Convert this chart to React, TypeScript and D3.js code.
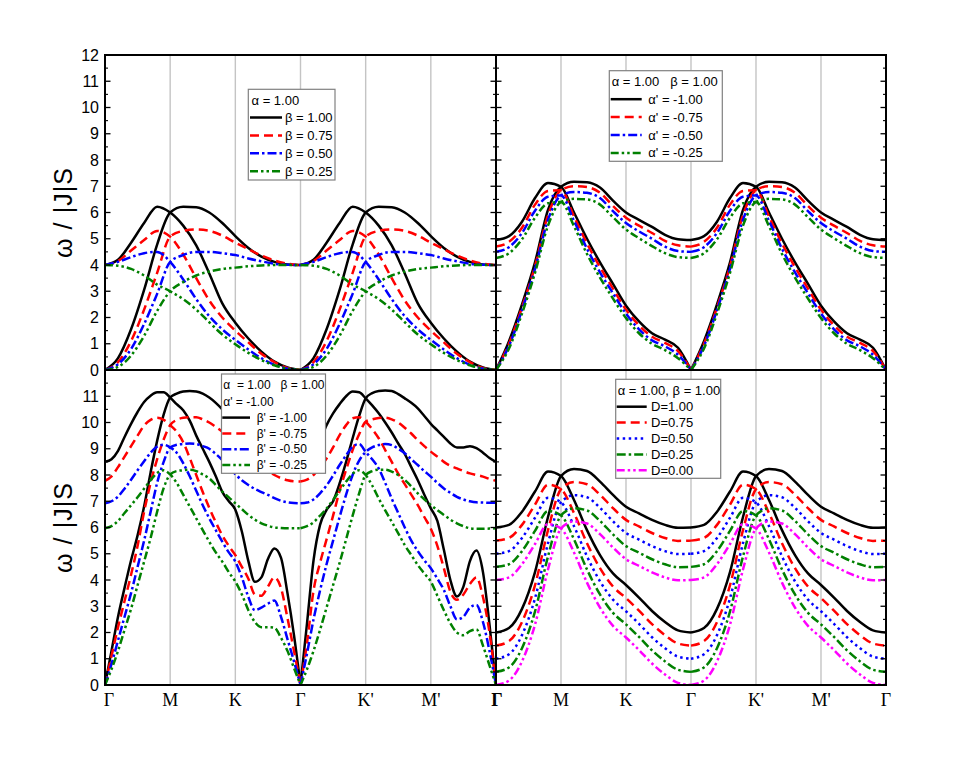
import * as d3 from "d3";

// positions along the path Γ-M-K-Γ-K'-M'-Γ (Γ=0, M=1, K=2, Γ=3, K'=4, M'=5, Γ=6)
const kCoarse = [0, 0.2, 0.4, 0.6, 0.8, 1, 1.2, 1.4, 1.6, 1.8, 2, 2.2, 2.4, 2.6, 2.8, 3, 3.2, 3.4, 3.6, 3.8, 4, 4.2, 4.4, 4.6, 4.8, 5, 5.2, 5.4, 5.6, 5.8, 6];
const kFine = [0, 0.1, 0.2, 0.3, 0.4, 0.5, 0.6, 0.7, 0.8, 0.9, 1, 1.1, 1.2, 1.3, 1.4, 1.5, 1.6, 1.7, 1.8, 1.9, 2, 2.1, 2.2, 2.3, 2.4, 2.5, 2.6, 2.7, 2.8, 2.9, 3, 3.1, 3.2, 3.3, 3.4, 3.5, 3.6, 3.7, 3.8, 3.9, 4, 4.1, 4.2, 4.3, 4.4, 4.5, 4.6, 4.7, 4.8, 4.9, 5, 5.1, 5.2, 5.3, 5.4, 5.5, 5.6, 5.7, 5.8, 5.9, 6];
const kTicks = [0, 1, 2, 3, 4, 5, 6];
const kLabels = ["Γ", "M", "K", "Γ", "K'", "M'", "Γ"];

// top left: alpha = 1.00, beta varies
const tlLabels = ["β = 1.00", "β = 0.75", "β = 0.50", "β = 0.25"];
const tlBlack1 = [4.0, 4.2, 4.85, 5.6, 6.22, 6.0, 5.5, 4.75, 3.68, 2.54, 1.8, 1.2, 0.7, 0.32, 0.1, 0, 0.45, 1.55, 3.05, 4.78, 6.0, 6.22, 6.2, 6.0, 5.6, 5.1, 4.65, 4.32, 4.12, 4.02, 4.0];
const tlBlack2 = [0, 0.45, 1.55, 3.05, 4.78, 6.0, 6.22, 6.2, 6.0, 5.6, 5.1, 4.65, 4.32, 4.12, 4.02, 4.0, 4.2, 4.85, 5.6, 6.22, 6.0, 5.5, 4.75, 3.68, 2.54, 1.8, 1.2, 0.7, 0.32, 0.1, 0];
const tlRed1 = [4.0, 4.15, 4.55, 4.95, 5.3, 5.08, 4.4, 3.5, 2.65, 2.0, 1.5, 1.05, 0.62, 0.3, 0.08, 0, 0.3, 1.1, 2.3, 3.7, 5.08, 5.3, 5.35, 5.3, 5.12, 4.85, 4.6, 4.36, 4.17, 4.05, 4.0];
const tlRed2 = [0, 0.3, 1.1, 2.3, 3.7, 5.08, 5.3, 5.35, 5.3, 5.12, 4.85, 4.6, 4.36, 4.17, 4.05, 4.0, 4.15, 4.55, 4.95, 5.3, 5.08, 4.4, 3.5, 2.65, 2.0, 1.5, 1.05, 0.62, 0.3, 0.08, 0];
const tlBlue1 = [4.0, 4.12, 4.3, 4.45, 4.5, 4.12, 3.45, 2.7, 2.05, 1.55, 1.15, 0.78, 0.45, 0.2, 0.05, 0, 0.22, 0.8, 1.75, 2.9, 4.12, 4.38, 4.5, 4.5, 4.45, 4.38, 4.25, 4.14, 4.05, 4.01, 4.0];
const tlBlue2 = [0, 0.22, 0.8, 1.75, 2.9, 4.12, 4.38, 4.5, 4.5, 4.45, 4.38, 4.25, 4.14, 4.05, 4.01, 4.0, 4.12, 4.3, 4.45, 4.5, 4.12, 3.45, 2.7, 2.05, 1.55, 1.15, 0.78, 0.45, 0.2, 0.05, 0];
const tlGreen1 = [4.0, 3.97, 3.85, 3.6, 3.25, 3.0, 2.7, 2.3, 1.82, 1.35, 0.98, 0.65, 0.38, 0.18, 0.05, 0, 0.12, 0.55, 1.3, 2.25, 3.0, 3.35, 3.6, 3.75, 3.85, 3.9, 3.95, 3.98, 4.0, 4.0, 4.0];
const tlGreen2 = [0, 0.12, 0.55, 1.3, 2.25, 3.0, 3.35, 3.6, 3.75, 3.85, 3.9, 3.95, 3.98, 4.0, 4.0, 4.0, 3.97, 3.85, 3.6, 3.25, 3.0, 2.7, 2.3, 1.82, 1.35, 0.98, 0.65, 0.38, 0.18, 0.05, 0];

// top right: alpha = beta = 1.00, alpha' varies
const trLabels = ["α' = -1.00", "α' = -0.75", "α' = -0.50", "α' = -0.25"];
const trBlack1 = [4.95, 5.1, 5.65, 6.55, 7.12, 6.98, 6.0, 5.0, 4.1, 3.28, 2.45, 1.85, 1.4, 1.16, 0.85, 0, 1.1, 2.5, 4.1, 6.1, 6.98, 7.17, 7.15, 6.95, 6.45, 6.0, 5.72, 5.45, 5.15, 4.98, 4.95];
const trBlack2 = [0, 1.1, 2.5, 4.1, 6.1, 6.98, 7.17, 7.15, 6.95, 6.45, 6.0, 5.72, 5.45, 5.15, 4.98, 4.95, 5.1, 5.65, 6.55, 7.12, 6.98, 6.0, 5.0, 4.1, 3.28, 2.45, 1.85, 1.4, 1.16, 0.85, 0];
const trRed1 = [4.7, 4.88, 5.42, 6.3, 6.82, 6.85, 5.85, 4.82, 3.92, 3.1, 2.3, 1.7, 1.27, 1.03, 0.72, 0, 1.0, 2.38, 3.95, 5.9, 6.85, 7.0, 6.97, 6.75, 6.25, 5.8, 5.5, 5.22, 4.92, 4.75, 4.7];
const trRed2 = [0, 1.0, 2.38, 3.95, 5.9, 6.85, 7.0, 6.97, 6.75, 6.25, 5.8, 5.5, 5.22, 4.92, 4.75, 4.7, 4.88, 5.42, 6.3, 6.82, 6.85, 5.85, 4.82, 3.92, 3.1, 2.3, 1.7, 1.27, 1.03, 0.72, 0];
const trBlue1 = [4.5, 4.68, 5.22, 6.07, 6.6, 6.65, 5.68, 4.62, 3.72, 2.92, 2.15, 1.55, 1.13, 0.9, 0.58, 0, 0.92, 2.28, 3.85, 5.72, 6.65, 6.78, 6.75, 6.55, 6.05, 5.6, 5.28, 5.0, 4.7, 4.53, 4.5];
const trBlue2 = [0, 0.92, 2.28, 3.85, 5.72, 6.65, 6.78, 6.75, 6.55, 6.05, 5.6, 5.28, 5.0, 4.7, 4.53, 4.5, 4.68, 5.22, 6.07, 6.6, 6.65, 5.68, 4.62, 3.72, 2.92, 2.15, 1.55, 1.13, 0.9, 0.58, 0];
const trGreen1 = [4.27, 4.45, 4.98, 5.8, 6.35, 6.4, 5.48, 4.42, 3.52, 2.72, 1.98, 1.4, 1.0, 0.76, 0.45, 0, 0.82, 2.15, 3.7, 5.5, 6.4, 6.52, 6.5, 6.3, 5.82, 5.35, 5.02, 4.72, 4.45, 4.3, 4.27];
const trGreen2 = [0, 0.82, 2.15, 3.7, 5.5, 6.4, 6.52, 6.5, 6.3, 5.82, 5.35, 5.02, 4.72, 4.45, 4.3, 4.27, 4.45, 4.98, 5.8, 6.35, 6.4, 5.48, 4.42, 3.52, 2.72, 1.98, 1.4, 1.0, 0.76, 0.45, 0];

// bottom left: alpha = beta = 1.00, alpha' = -1.00, beta' varies (fine grid)
const blLabels = ["β' = -1.00", "β' = -0.75", "β' = -0.50", "β' = -0.25"];
const blBlack1 = [8.5, 8.6, 8.92, 9.45, 9.95, 10.4, 10.78, 11.02, 11.15, 11.15, 10.95,
  10.7, 10.47, 10.07, 9.5, 9.0, 8.5, 7.95, 7.36, 7.0, 6.68,
  5.85, 4.72, 3.93, 4.1, 4.8, 5.2, 4.85, 3.5, 1.9, 0,
  2.35, 4.75, 6.1, 6.67, 7.0, 7.68, 8.5, 9.4, 10.25, 10.92,
  11.12, 11.2, 11.22, 11.2, 11.08, 10.92, 10.75, 10.54, 10.25, 9.95,
  9.7, 9.45, 9.2, 9.05, 9.05, 9.1, 9.02, 8.85, 8.65, 8.5];
const blBlack2 = [0, 1.3, 2.6, 3.7, 4.75, 5.7, 6.8, 8.1, 9.3, 10.3, 10.95,
  11.1, 11.18, 11.2, 11.18, 11.1, 10.95, 10.75, 10.5, 10.2, 9.9,
  9.65, 9.45, 9.25, 9.05, 9.0, 9.05, 9.0, 8.85, 8.65, 8.5,
  8.6, 8.85, 9.3, 9.9, 10.35, 10.7, 11.0, 11.18, 11.15, 10.92,
  10.65, 10.35, 10.0, 9.62, 9.2, 8.8, 8.3, 7.8, 7.25, 6.73,
  6.25, 5.15, 4.0, 3.37, 3.75, 4.72, 5.12, 4.3, 2.3, 0];
const blRed1 = [7.78, 7.95, 8.3, 8.7, 9.1, 9.5, 9.88, 10.1, 10.18, 10.1, 9.9,
  9.65, 9.25, 8.65, 8.0, 7.35, 6.75, 6.2, 5.7, 5.3, 4.95,
  4.5, 4.05, 3.45, 3.4, 3.75, 4.1, 3.7, 2.55, 1.3, 0,
  1.6, 3.6, 4.65, 5.55, 6.45, 7.4, 8.2, 8.95, 9.55, 10.03,
  10.12, 10.17, 10.18, 10.12, 10.0, 9.8, 9.58, 9.33, 9.1, 8.89,
  8.7, 8.5, 8.35, 8.25, 8.15, 8.06, 8.0, 7.94, 7.85, 7.78];
const blRed2 = [0, 1.1, 2.2, 3.2, 4.2, 5.3, 6.6, 7.7, 8.6, 9.35, 9.9,
  10.1, 10.18, 10.2, 10.2, 10.12, 10.0, 9.83, 9.65, 9.45, 9.25,
  9.05, 8.85, 8.6, 8.35, 8.15, 8.0, 7.88, 7.8, 7.76, 7.75,
  7.82, 8.0, 8.3, 8.63, 9.05, 9.52, 9.9, 10.16, 10.2, 10.03,
  9.75, 9.4, 8.95, 8.5, 8.05, 7.65, 7.25, 6.85, 6.4, 5.95,
  5.3, 4.45, 3.55, 3.25, 3.45, 3.85, 4.1, 3.35, 2.0, 0];
const blBlue1 = [6.92, 7.0, 7.18, 7.48, 7.82, 8.18, 8.52, 8.85, 9.08, 9.15, 9.05,
  8.85, 8.45, 7.95, 7.4, 6.85, 6.35, 5.9, 5.46, 5.05, 4.7,
  4.1, 3.35, 2.85, 2.95, 3.1, 3.22, 2.6, 1.75, 0.9, 0,
  1.2, 2.5, 3.6, 4.6, 5.5, 6.4, 7.25, 8.0, 8.55, 8.88,
  9.05, 9.14, 9.18, 9.14, 9.0, 8.83, 8.6, 8.38, 8.15, 7.94,
  7.7, 7.49, 7.32, 7.17, 7.07, 7.0, 6.96, 6.95, 6.94, 6.94];
const blBlue2 = [0, 0.8, 1.7, 2.6, 3.5, 4.5, 5.5, 6.6, 7.7, 8.5, 9.05,
  9.15, 9.18, 9.2, 9.18, 9.1, 9.0, 8.8, 8.57, 8.3, 8.03,
  7.8, 7.62, 7.47, 7.35, 7.24, 7.12, 7.02, 6.96, 6.93, 6.92,
  6.95, 7.07, 7.3, 7.6, 7.98, 8.38, 8.75, 9.08, 9.18, 8.88,
  8.6, 8.25, 7.7, 7.1, 6.55, 6.0, 5.5, 5.1, 4.75, 4.45,
  4.05, 3.62, 3.0, 2.5, 2.6, 2.95, 3.05, 2.4, 1.3, 0];
const blGreen1 = [5.97, 6.05, 6.25, 6.55, 6.85, 7.15, 7.48, 7.8, 8.08, 8.18, 8.02,
  7.7, 7.25, 6.8, 6.35, 5.9, 5.46, 5.05, 4.7, 4.3, 3.94,
  3.45, 2.85, 2.4, 2.2, 2.2, 2.18, 1.8, 1.3, 0.65, 0,
  0.6, 1.3, 2.1, 2.95, 3.8, 4.65, 5.55, 6.45, 7.3, 8.0,
  8.15, 8.2, 8.2, 8.13, 8.0, 7.81, 7.57, 7.3, 7.07, 6.86,
  6.66, 6.48, 6.3, 6.16, 6.05, 5.97, 5.95, 5.95, 5.96, 5.97];
const blGreen2 = [0, 0.6, 1.3, 2.1, 2.9, 3.8, 4.7, 5.6, 6.6, 7.5, 8.02,
  8.15, 8.18, 8.2, 8.15, 8.02, 7.87, 7.62, 7.37, 7.15, 6.92,
  6.7, 6.48, 6.3, 6.16, 6.07, 6.0, 5.98, 5.97, 5.97, 5.97,
  6.05, 6.2, 6.45, 6.72, 7.05, 7.4, 7.75, 8.05, 8.18, 8.0,
  7.6, 7.11, 6.65, 6.22, 5.78, 5.33, 4.95, 4.57, 4.25, 3.94,
  3.4, 2.85, 2.35, 2.0, 1.9, 2.05, 2.12, 1.5, 0.75, 0];

// bottom right: alpha = beta = 1.00, D varies
const brLabels = ["D=1.00", "D=0.75", "D=0.50", "D=0.25", "D=0.00"];
const brBlack1 = [6.0, 6.1, 6.6, 7.37, 8.13, 7.96, 7.05, 5.9, 4.95, 4.25, 3.81, 3.33, 2.82, 2.4, 2.08, 2.0, 2.17, 2.9, 4.3, 6.4, 7.96, 8.23, 8.15, 7.75, 7.24, 6.79, 6.54, 6.29, 6.1, 5.99, 6.0];
const brBlack2 = [2.0, 2.17, 2.9, 4.3, 6.4, 7.96, 8.23, 8.15, 7.75, 7.24, 6.79, 6.54, 6.29, 6.1, 5.99, 6.0, 6.1, 6.6, 7.37, 8.13, 7.96, 7.05, 5.9, 4.95, 4.25, 3.81, 3.33, 2.82, 2.4, 2.08, 2.0];
const brRed1 = [5.5, 5.6, 6.1, 6.87, 7.63, 7.46, 6.55, 5.4, 4.45, 3.75, 3.31, 2.83, 2.32, 1.9, 1.58, 1.5, 1.67, 2.4, 3.8, 5.9, 7.46, 7.73, 7.65, 7.25, 6.74, 6.29, 6.04, 5.79, 5.6, 5.49, 5.5];
const brRed2 = [1.5, 1.67, 2.4, 3.8, 5.9, 7.46, 7.73, 7.65, 7.25, 6.74, 6.29, 6.04, 5.79, 5.6, 5.49, 5.5, 5.6, 6.1, 6.87, 7.63, 7.46, 6.55, 5.4, 4.45, 3.75, 3.31, 2.83, 2.32, 1.9, 1.58, 1.5];
const brBlue1 = [5.0, 5.1, 5.6, 6.37, 7.13, 6.96, 6.05, 4.9, 3.95, 3.25, 2.81, 2.33, 1.82, 1.4, 1.08, 1.0, 1.17, 1.9, 3.3, 5.4, 6.96, 7.23, 7.15, 6.75, 6.24, 5.79, 5.54, 5.29, 5.1, 4.99, 5.0];
const brBlue2 = [1.0, 1.17, 1.9, 3.3, 5.4, 6.96, 7.23, 7.15, 6.75, 6.24, 5.79, 5.54, 5.29, 5.1, 4.99, 5.0, 5.1, 5.6, 6.37, 7.13, 6.96, 6.05, 4.9, 3.95, 3.25, 2.81, 2.33, 1.82, 1.4, 1.08, 1.0];
const brGreen1 = [4.5, 4.6, 5.1, 5.87, 6.63, 6.46, 5.55, 4.4, 3.45, 2.75, 2.31, 1.83, 1.32, 0.9, 0.58, 0.5, 0.67, 1.4, 2.8, 4.9, 6.46, 6.73, 6.65, 6.25, 5.74, 5.29, 5.04, 4.79, 4.6, 4.49, 4.5];
const brGreen2 = [0.5, 0.67, 1.4, 2.8, 4.9, 6.46, 6.73, 6.65, 6.25, 5.74, 5.29, 5.04, 4.79, 4.6, 4.49, 4.5, 4.6, 5.1, 5.87, 6.63, 6.46, 5.55, 4.4, 3.45, 2.75, 2.31, 1.83, 1.32, 0.9, 0.58, 0.5];
const brMagenta1 = [4.0, 4.1, 4.6, 5.37, 6.13, 5.96, 5.05, 3.9, 2.95, 2.25, 1.81, 1.33, 0.82, 0.4, 0.08, 0, 0.17, 0.9, 2.3, 4.4, 5.96, 6.23, 6.15, 5.75, 5.24, 4.79, 4.54, 4.29, 4.1, 3.99, 4.0];
const brMagenta2 = [0, 0.17, 0.9, 2.3, 4.4, 5.96, 6.23, 6.15, 5.75, 5.24, 4.79, 4.54, 4.29, 4.1, 3.99, 4.0, 4.1, 4.6, 5.37, 6.13, 5.96, 5.05, 3.9, 2.95, 2.25, 1.81, 1.33, 0.82, 0.4, 0.08, 0];

const SANS = "'Liberation Sans', Arial, Helvetica, sans-serif";
const SERIF = "'Liberation Serif', 'Times New Roman', serif";

const DASH = {
  solid: "",
  dash: "9,5",
  dashDot: "9,3,2.5,3",
  dashDotDot: "8,3,2.5,3,2.5,3",
  dot: "2.5,3.5",
};

type Series = { label: string; color: string; dash: string; branches: number[][] };
type Legend = {
  box: [number, number, number, number];
  titles: { text: string; x: number; y: number }[];
  rowY: number;
  rowStep: number;
  sampleX: [number, number];
  textX: number;
  fontSize: number;
};
type PanelDef = {
  id: string;
  x0: number; x1: number; y0: number; y1: number;
  grid: number[];
  series: Series[];
  legend: Legend;
  yLabels: number[];
  xLabels: "none" | "left" | "right";
};

const mk = (labels: string[], colors: string[], dashes: string[], branches: number[][][]): Series[] =>
  labels.map((label, i) => ({ label, color: colors[i], dash: dashes[i], branches: branches[i] }));

const colors4 = ["#000000", "#ff0000", "#0000ff", "#008000"];
const dashes4 = [DASH.solid, DASH.dash, DASH.dashDot, DASH.dashDotDot];

const panels: PanelDef[] = [
  {
    id: "tl", x0: 105, x1: 496, y0: 55, y1: 370, grid: kCoarse,
    series: mk(tlLabels, colors4, dashes4, [[tlBlack1, tlBlack2], [tlRed1, tlRed2], [tlBlue1, tlBlue2], [tlGreen1, tlGreen2]]),
    legend: {
      box: [248.3, 89.3, 86.7, 90.7],
      titles: [{ text: "α = 1.00", x: 251.5, y: 104.5 }],
      rowY: 117.5, rowStep: 17.9, sampleX: [250, 282], textX: 285, fontSize: 13,
    },
    yLabels: [0, 1, 2, 3, 4, 5, 6, 7, 8, 9, 10, 11, 12],
    xLabels: "none",
  },
  {
    id: "tr", x0: 496, x1: 886, y0: 55, y1: 370, grid: kCoarse,
    series: mk(trLabels, colors4, dashes4, [[trBlack1, trBlack2], [trRed1, trRed2], [trBlue1, trBlue2], [trGreen1, trGreen2]]),
    legend: {
      box: [609.3, 70.7, 113, 90.6],
      titles: [{ text: "α = 1.00   β = 1.00", x: 611.7, y: 86.3 }],
      rowY: 99.2, rowStep: 17.9, sampleX: [610.7, 641.7], textX: 648.3, fontSize: 13,
    },
    yLabels: [],
    xLabels: "none",
  },
  {
    id: "bl", x0: 105, x1: 496, y0: 370, y1: 685, grid: kFine,
    series: mk(blLabels, colors4, dashes4, [[blBlack1, blBlack2], [blRed1, blRed2], [blBlue1, blBlue2], [blGreen1, blGreen2]]),
    legend: {
      box: [221.5, 374, 104, 99.3],
      titles: [
        { text: "α  = 1.00   β = 1.00", x: 223.3, y: 389.2 },
        { text: "α' = -1.00", x: 223.3, y: 405.6 },
      ],
      rowY: 417.6, rowStep: 15.8, sampleX: [222.3, 250], textX: 256.7, fontSize: 12,
    },
    yLabels: [0, 1, 2, 3, 4, 5, 6, 7, 8, 9, 10, 11],
    xLabels: "left",
  },
  {
    id: "br", x0: 496, x1: 886, y0: 370, y1: 685, grid: kCoarse,
    series: mk(brLabels, ["#000000", "#ff0000", "#0000ff", "#008000", "#ff00ff"],
      [DASH.solid, DASH.dash, DASH.dot, DASH.dashDot, DASH.dashDotDot],
      [[brBlack1, brBlack2], [brRed1, brRed2], [brBlue1, brBlue2], [brGreen1, brGreen2], [brMagenta1, brMagenta2]]),
    legend: {
      box: [615.7, 379.3, 105, 99],
      titles: [{ text: "α = 1.00, β = 1.00", x: 617.7, y: 395.2 }],
      rowY: 406.7, rowStep: 15.9, sampleX: [616.7, 646.7], textX: 651, fontSize: 13,
    },
    yLabels: [],
    xLabels: "right",
  },
];

const LW = 2.5;

function Panel({ p }: { p: PanelDef }) {
  const x = d3.scaleLinear().domain([0, 6]).range([p.x0, p.x1]);
  const y = d3.scaleLinear().domain([0, 12]).range([p.y1, p.y0]);
  const line = d3
    .line<[number, number]>()
    .x((d) => x(d[0]))
    .y((d) => y(d[1]))
    .curve(d3.curveMonotoneX);

  // split each branch at the central Γ so the cusps stay sharp
  const halves = (vals: number[]) => {
    const pts = p.grid.map((k, i) => [k, vals[i]] as [number, number]);
    return [pts.filter((d) => d[0] <= 3), pts.filter((d) => d[0] >= 3)];
  };

  const majors = d3.range(0, 13);
  const minors = d3.range(0.5, 12, 1);
  const lg = p.legend;

  // the shared Γ between the two lower panels is drawn once, in bold
  const xTickIdx =
    p.xLabels === "none" ? [] : p.xLabels === "left" ? kTicks.map((_, i) => i) : kTicks.map((_, i) => i).slice(1);

  return (
    <g>
      <defs>
        <clipPath id={`clip-${p.id}`}>
          <rect x={p.x0} y={p.y0} width={p.x1 - p.x0} height={p.y1 - p.y0} />
        </clipPath>
      </defs>
      {/* vertical grid at symmetry points */}
      {kTicks.slice(1, -1).map((k) => (
        <line key={k} x1={x(k)} x2={x(k)} y1={p.y0} y2={p.y1} stroke="#c4c4c4" strokeWidth={1.4} />
      ))}
      {/* dispersion curves */}
      <g clipPath={`url(#clip-${p.id})`}>
        {p.series.map((s, si) =>
          s.branches.flatMap((b, bi) =>
            halves(b).map((h, hi) => (
              <path
                key={`${si}-${bi}-${hi}`}
                d={line(h) ?? ""}
                fill="none"
                stroke={s.color}
                strokeWidth={LW}
                strokeDasharray={s.dash || undefined}
                strokeLinejoin="round"
              />
            ))
          )
        )}
      </g>
      {/* inward y ticks on both sides */}
      {majors.map((v) => (
        <g key={`M${v}`} stroke="#000" strokeWidth={1.3}>
          <line x1={p.x0} x2={p.x0 + 5.5} y1={y(v)} y2={y(v)} />
          <line x1={p.x1} x2={p.x1 - 5.5} y1={y(v)} y2={y(v)} />
        </g>
      ))}
      {minors.map((v) => (
        <g key={`m${v}`} stroke="#000" strokeWidth={1.1}>
          <line x1={p.x0} x2={p.x0 + 3} y1={y(v)} y2={y(v)} />
          <line x1={p.x1} x2={p.x1 - 3} y1={y(v)} y2={y(v)} />
        </g>
      ))}
      {/* frame */}
      <rect x={p.x0} y={p.y0} width={p.x1 - p.x0} height={p.y1 - p.y0} fill="none" stroke="#000" strokeWidth={2} />
      {/* y tick labels */}
      {p.yLabels.map((v) => (
        <text key={`yl${v}`} x={p.x0 - 6} y={y(v) + 5.6} textAnchor="end" fontFamily={SANS} fontSize={16}>
          {v}
        </text>
      ))}
      {/* x tick labels */}
      {xTickIdx.map((i) => {
        const shared = p.xLabels === "left" && i === kTicks.length - 1;
        return (
          <text
            key={`xl${i}`}
            x={x(kTicks[i]) + (p.xLabels === "left" && i === 0 ? 4 : 0) + (shared ? 1 : 0)}
            y={p.y1 + 21}
            textAnchor="middle"
            fontFamily={SERIF}
            fontSize={18}
            fontWeight={shared ? "bold" : "normal"}
          >
            {kLabels[i]}
          </text>
        );
      })}
      {/* legend */}
      <g fontFamily={SANS} fontSize={lg.fontSize}>
        <rect x={lg.box[0]} y={lg.box[1]} width={lg.box[2]} height={lg.box[3]} fill="#fff" stroke="#808080" strokeWidth={1.2} />
        {lg.titles.map((t, i) => (
          <text key={`t${i}`} x={t.x} y={t.y} style={{ whiteSpace: "pre" }}>
            {t.text}
          </text>
        ))}
        {p.series.map((s, i) => {
          const cy = lg.rowY + i * lg.rowStep;
          return (
            <g key={`lg${i}`}>
              <line
                x1={lg.sampleX[0]}
                x2={lg.sampleX[1]}
                y1={cy}
                y2={cy}
                stroke={s.color}
                strokeWidth={LW}
                strokeDasharray={s.dash || undefined}
              />
              <text x={lg.textX} y={cy + lg.fontSize * 0.35} style={{ whiteSpace: "pre" }}>
                {s.label}
              </text>
            </g>
          );
        })}
      </g>
    </g>
  );
}

export default function App() {
  return (
    <svg
      width={969}
      height={761}
      viewBox="0 0 969 761"
      style={{ position: "absolute", left: 0, top: 0, background: "#fff" }}
    >
      <rect width={969} height={761} fill="#fff" />
      {panels.map((p) => (
        <Panel key={p.id} p={p} />
      ))}
      {[213, 528].map((cy, i) => (
        <text
          key={`yt${i}`}
          transform={`translate(72, ${cy}) rotate(-90)`}
          textAnchor="middle"
          fontFamily={SANS}
          fontSize={25}
          textLength={90}
          lengthAdjust="spacing"
        >
          ω / |J|S
        </text>
      ))}
    </svg>
  );
}
